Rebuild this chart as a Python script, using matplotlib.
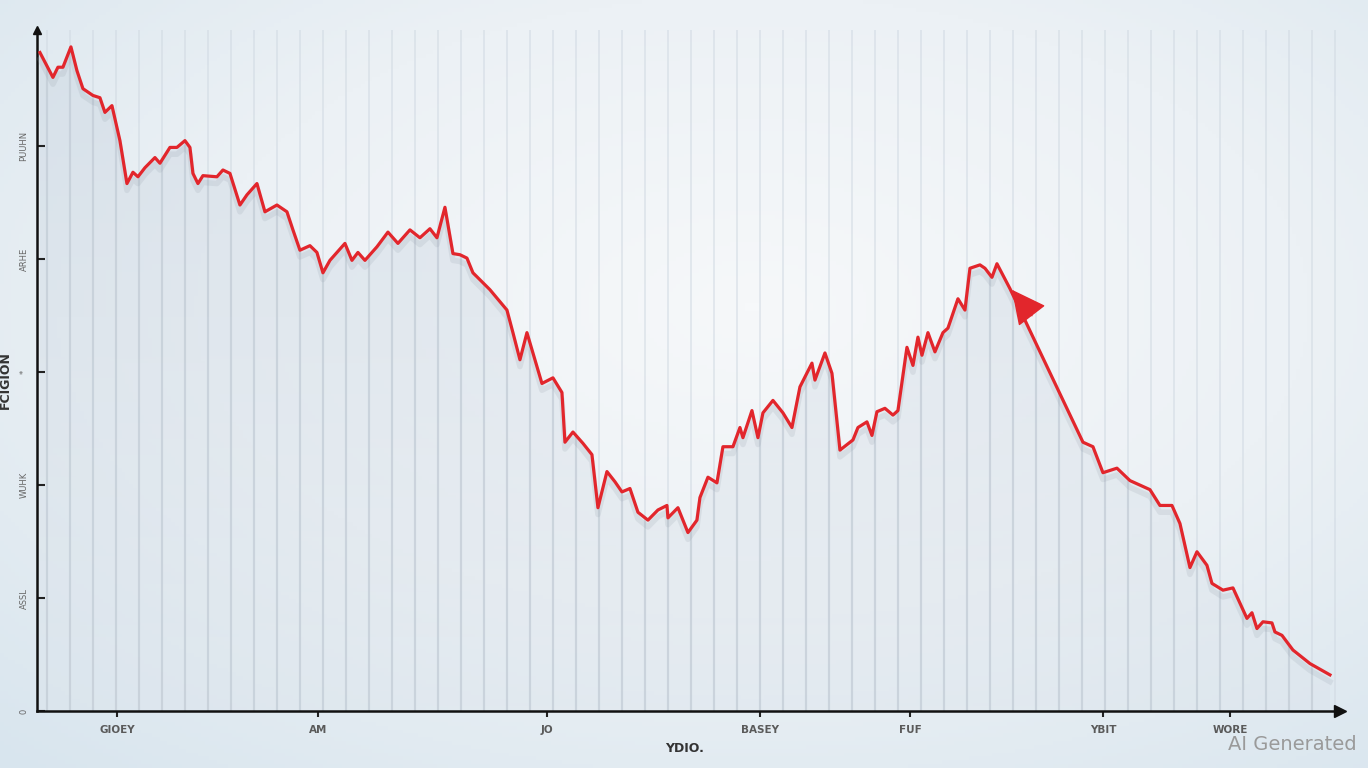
import matplotlib.pyplot as plt
import numpy as np
from matplotlib.colors import LinearSegmentedColormap

# Data
t = [0.3, 1.6, 2.1, 2.6, 3.4, 4.0, 4.6, 5.6, 6.3, 6.8, 7.5, 8.3, 9.0, 9.6, 10.1,
     10.8, 11.8, 12.3, 13.3, 14.0, 14.8, 15.3, 15.6, 16.1, 16.6, 18.0, 18.6, 19.3,
     20.3, 21.0, 22.0, 22.8, 24.0, 25.0, 25.6, 26.3, 27.3, 28.0, 28.6, 29.3, 30.8,
     31.5, 32.1, 32.8, 34.0, 35.1, 36.1, 37.3, 38.3, 39.3, 40.0, 40.8, 41.6, 42.3,
     43.0, 43.6, 45.3, 47.0, 47.6, 48.3, 49.0, 50.5, 51.6, 52.5, 52.8, 53.6, 54.6,
     55.5, 56.1, 57.0, 57.8, 58.5, 59.3, 60.1, 61.1, 62.1, 63.0, 63.1, 64.1, 65.1,
     66.0, 66.3, 67.1, 68.0, 68.6, 69.6, 70.3, 70.6, 71.5, 72.1, 72.6, 73.6, 74.6,
     75.5, 76.3, 77.5, 77.8, 78.8, 79.5, 80.3, 81.6, 82.1, 83.0, 83.5, 84.0, 84.8,
     85.6, 86.1, 87.0, 87.6, 88.1, 88.5, 89.1, 89.8, 90.6, 91.1, 92.1, 92.8, 93.3,
     94.3, 94.8, 95.5, 96.0, 97.3, 104.6, 105.6, 106.6, 108.0, 109.3, 111.3, 112.3,
     113.5, 114.3, 115.3, 116.0, 117.0, 117.5, 118.6, 119.6, 121.0, 121.5, 122.0,
     122.6, 123.5, 123.8, 124.5, 125.6, 127.3, 129.3]
level = [5.83, 5.61, 5.70, 5.70, 5.88, 5.67, 5.51, 5.45, 5.43, 5.30, 5.36, 5.05, 4.67,
         4.77, 4.73, 4.81, 4.90, 4.85, 4.99, 4.99, 5.05, 4.99, 4.76, 4.67, 4.74, 4.73,
         4.79, 4.76, 4.48, 4.57, 4.67, 4.42, 4.48, 4.42, 4.26, 4.08, 4.12, 4.06, 3.88,
         3.99, 4.14, 3.99, 4.06, 3.99, 4.11, 4.24, 4.14, 4.26, 4.19, 4.27, 4.19, 4.46,
         4.05, 4.04, 4.01, 3.88, 3.73, 3.55, 3.35, 3.11, 3.35, 2.90, 2.95, 2.82, 2.38,
         2.47, 2.37, 2.27, 1.80, 2.12, 2.03, 1.94, 1.97, 1.76, 1.69, 1.78, 1.82, 1.71,
         1.80, 1.58, 1.69, 1.89, 2.07, 2.02, 2.34, 2.34, 2.51, 2.42, 2.66, 2.42, 2.64,
         2.75, 2.64, 2.51, 2.87, 3.08, 2.93, 3.17, 2.99, 2.31, 2.40, 2.51, 2.56, 2.44,
         2.65, 2.68, 2.62, 2.66, 3.22, 3.06, 3.31, 3.15, 3.35, 3.18, 3.35, 3.39, 3.65,
         3.55, 3.92, 3.95, 3.92, 3.84, 3.96, 3.74, 2.38, 2.34, 2.11, 2.15, 2.04, 1.96,
         1.82, 1.82, 1.66, 1.27, 1.41, 1.29, 1.13, 1.07, 1.09, 0.82, 0.87, 0.73, 0.79,
         0.78, 0.70, 0.67, 0.54, 0.42, 0.32]

x_tick_pos = [8.0, 28.1, 51.0, 72.3, 87.3, 106.6, 119.3]
x_tick_labels = ['GIOEY', 'AM', 'JO', 'BASEY', 'FUF', 'YBIT', 'WORE']
y_tick_pos = [0, 1, 2, 3, 4, 5]
y_tick_labels = ['0', 'ASSL', 'WUHK', '*', 'ARHE', 'PUUHN']

# arrow head on the descending leg (tip and base centre)
arrow_tip = (97.5, 3.73)
arrow_base = (99.5, 3.50)

red = '#e2262c'
x_max, y_max = 130.3, 6.03

fig = plt.figure(figsize=(13.68, 7.68), dpi=100)

# soft bluish background
bg = fig.add_axes([0, 0, 1, 1], zorder=-10)
yy, xx = np.mgrid[0:1:200j, 0:1:360j]
r = np.sqrt(((xx - 0.55) / 0.75) ** 2 + ((yy - 0.6) / 0.75) ** 2)
bg_cmap = LinearSegmentedColormap.from_list('bg', ['#f6f8fa', '#ecf1f5', '#d8e5ee'])
bg.imshow(r, cmap=bg_cmap, extent=[0, 1, 0, 1], aspect='auto', origin='lower')
bg.axis('off')

ax = fig.add_axes([0.027, 0.0742, 0.9525, 0.8868])
ax.patch.set_alpha(0)
ax.set_xlim(0, x_max)
ax.set_ylim(0, y_max)

# faint vertical stripes everywhere
stripes = np.arange(1.0, x_max, 2.3)
ax.vlines(stripes, 0, y_max, color='#cfd8e1', lw=1.3, alpha=0.55, zorder=0)

# shaded area under the curve
poly = ax.fill_between(t, level, 0, color='none', lw=0)
clip = poly.get_paths()[0]
grad = np.linspace(0, 1, 256).reshape(-1, 1)
fill_cmap = LinearSegmentedColormap.from_list(
    'fill', [(0.86, 0.89, 0.92, 0.30), (0.82, 0.86, 0.90, 0.65)])
im = ax.imshow(grad, cmap=fill_cmap, extent=[0, x_max, 0, y_max],
               aspect='auto', origin='lower', zorder=1)
im.set_clip_path(clip, transform=ax.transData)
vl = ax.vlines(stripes, 0, y_max, color='#bcc6d0', lw=1.6, alpha=0.5, zorder=2)
vl.set_clip_path(clip, transform=ax.transData)

# the line, with a soft shadow
ax.plot(t, np.array(level) - 0.06, color='#8d98a4', lw=4, alpha=0.16, zorder=3)
ax.plot(t, level, color=red, lw=2.3, zorder=5, solid_joinstyle='round')

ax.annotate('', xy=arrow_tip, xytext=arrow_base, zorder=6,
            arrowprops=dict(arrowstyle='-|>,head_length=1.1,head_width=0.55',
                            color=red, lw=1.0, mutation_scale=20,
                            shrinkA=0, shrinkB=0))

# axes with arrow ends
for side in ['top', 'right']:
    ax.spines[side].set_visible(False)
for side in ['left', 'bottom']:
    ax.spines[side].set_linewidth(1.8)
    ax.spines[side].set_color('#111111')
ax.plot(1, 0, '>', color='#111111', ms=8, transform=ax.transAxes, clip_on=False)
ax.plot(0, 1, '^', color='#111111', ms=6, transform=ax.transAxes, clip_on=False)

ax.set_xticks(x_tick_pos)
ax.set_xticklabels(x_tick_labels, fontsize=7.5, fontweight='bold')
ax.tick_params(axis='x', direction='out', length=4, width=1.5, pad=6, colors='#222222',
               labelcolor='#5a5a5a')
ax.set_yticks(y_tick_pos)
ax.set_yticklabels(y_tick_labels, fontsize=6, rotation=90, va='center')
ax.tick_params(axis='y', direction='in', length=6, width=1.5, pad=6, colors='#222222',
               labelcolor='#666666')

ax.set_xlabel('YDIO.', fontsize=9, fontweight='bold', color='#333333')
ax.xaxis.set_label_coords(0.497, -0.045)
ax.set_ylabel('FCIGION', fontsize=9, fontweight='bold', color='#333333')
ax.yaxis.set_label_coords(-0.019, 0.486)

fig.text(1357 / 1368, 23 / 768, 'AI Generated', ha='right', va='center',
         fontsize=14, color='#9a9a9a')

fig.savefig('out.png', dpi=100)
